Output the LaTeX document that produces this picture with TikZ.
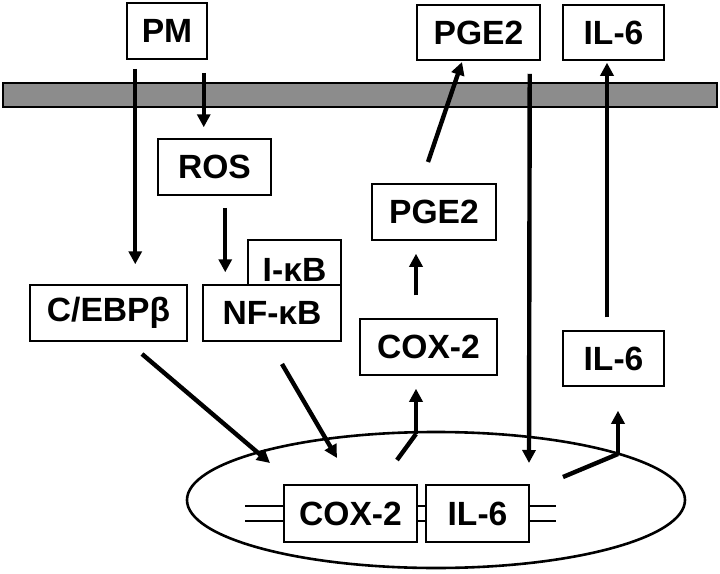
\documentclass[tikz,border=0pt]{standalone}
\usepackage{fontspec}
\setmainfont{Liberation Sans}
\usepackage{tikz}
\usetikzlibrary{calc,shapes,arrows.meta}

\tikzset{
  box/.style={draw, line width=0.75pt, fill=white, inner sep=0pt,
    minimum height=28pt, font=\fontsize{16.8pt}{18pt}\selectfont\bfseries},
  arr/.style={line width=2.2pt, -{Triangle[length=6.5pt,width=6.5pt]}},
  branch/.style={line width=2.2pt}
}

\begin{document}
\begin{tikzpicture}[x=0.5pt,y=-0.5pt]
        \useasboundingbox (0,0) rectangle (720,574);
        % membrane
        \draw[line width=1pt, fill=black!45] (3,83) rectangle (717,107);
        % nucleus
        \node[draw, ellipse, line width=1.3pt, inner sep=0pt,
            minimum width=249pt, minimum height=68pt] (nucleus) at (436,500) {};

        \node[box, minimum width=40pt] (pm) at (167,31) {PM};
        \node[box, minimum width=56.5pt] (ros) at (214.5,167) {ROS};
        \node[box, minimum width=46.5pt, minimum height=30pt] (ikb) at (294.5,270) {I-κB};
        \node[box, minimum width=78.5pt] (cebp) at (108.5,313) {C/EBPβ};
        \node[box, minimum width=69pt] (nfkb) at (272,313) {NF-κB};
        \node[box, minimum width=68.5pt] (coxup) at (428.5,347) {COX-2};
        \node[box, minimum width=62pt] (pgein) at (434,212) {PGE2};
        \node[box, minimum width=61.5pt, minimum height=27.5pt] (pgeout) at (478.5,32.5) {PGE2};
        \node[box, minimum width=50.5pt, minimum height=27.5pt] (ilout) at (613.5,32.5) {IL-6};
        \node[box, minimum width=50.5pt, minimum height=27.5pt] (ilup) at (613.5,358.5) {IL-6};
        \node[box, minimum width=66.5pt, minimum height=28.5pt] (coxgene) at (350.5,513.5) {COX-2};
        \node[box, minimum width=51.5pt, minimum height=28.5pt] (ilgene) at (477.5,513.5) {IL-6};

        % DNA strands
        \foreach \s in {-3.75pt,3.75pt} {
            \draw[line width=0.75pt] ([yshift=\s]coxgene.west) -- ++(-38,0);
            \draw[line width=0.75pt] ([yshift=\s]coxgene.east) -- ([yshift=\s]ilgene.west);
            \draw[line width=0.75pt] ([yshift=\s]ilgene.east) -- ++(26,0);
        }

        \coordinate (pmL) at ([xshift=4.5pt]pm.south west);
        \coordinate (pmR) at ([xshift=-2pt]pm.south east);
        \coordinate (rosD) at ([xshift=34pt]ros.south west);
        \coordinate (coxU) at ([xshift=-6.25pt]coxup.north);
        \coordinate (pgeD) at ([xshift=-5.5pt]pgeout.south east);
        \coordinate (cebpS) at (142,354);
        \coordinate (cebpT) at (270,463);
        \coordinate (nfkbS) at (282,364);
        \coordinate (nfkbT) at (337,458);
        \coordinate (coxS) at (397,460);
        \coordinate (coxK) at (416,434);
        \coordinate (pgeS) at (428,162);
        \coordinate (pgeT) at (462,62);
        \coordinate (pgeIn) at (529,463);
        \coordinate (ilS) at (563,477);
        \coordinate (ilK) at (618,454);

        \draw[arr, shorten <=4.5pt, shorten >=10pt] (pmL) -- (pmL |- cebp.north);
        \draw[arr, shorten <=6.5pt, shorten >=5.5pt] (pmR) -- (pmR |- ros.north);
        \draw[arr, shorten <=6pt, shorten >=6pt] (rosD) -- (rosD |- nfkb.north);
        \draw[arr] (cebpS) -- (cebpT);
        \draw[arr] (nfkbS) -- (nfkbT);
        \draw[branch] (coxS) -- (coxK);
        \draw[arr, shorten >=6.5pt] (coxK) -- (coxK |- coxup.south);
        \draw[arr, shorten <=11.5pt, shorten >=6.5pt] (coxU) -- (coxU |- pgein.south);
        \draw[arr] (pgeS) -- (pgeT);
        \draw[arr, shorten <=6.5pt] (pgeD) -- (pgeIn);
        \draw[arr, shorten <=6.5pt, shorten >=1pt] ([xshift=-3.25pt]ilup.north) -- ([xshift=-3.25pt]ilout.south);
        \draw[branch] (ilS) -- (ilK);
        \draw[arr, shorten >=12pt] (ilK) -- (ilK |- ilup.south);
    \end{tikzpicture}
\end{document}
